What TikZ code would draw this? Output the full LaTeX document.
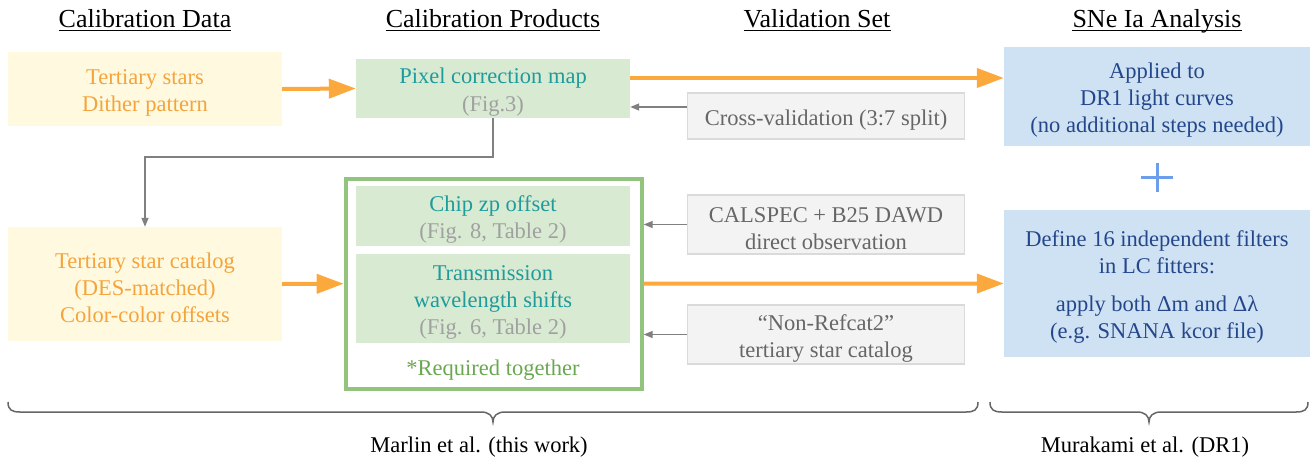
\documentclass[tikz,border=0pt]{standalone}
\usepackage{fontspec}
\setmainfont{Liberation Serif}
\usetikzlibrary{arrows.meta}
\definecolor{yfill}{HTML}{FFF9E0}
\definecolor{otext}{HTML}{F4A43C}
\definecolor{ocol}{HTML}{FBA83D}
\definecolor{gfill}{HTML}{D9EAD3}
\definecolor{ttext}{HTML}{1E9C9C}
\definecolor{subgray}{HTML}{A0A0A0}
\definecolor{gborder}{HTML}{93C47D}
\definecolor{gtext}{HTML}{6AA84F}
\definecolor{grfill}{HTML}{F3F3F3}
\definecolor{grborder}{HTML}{DADADA}
\definecolor{grtext}{HTML}{666666}
\definecolor{bfill}{HTML}{CFE2F3}
\definecolor{btext}{HTML}{24478C}
\definecolor{pluscol}{HTML}{6D9EEB}
\definecolor{gline}{HTML}{808080}
\definecolor{bracecol}{HTML}{666666}
\newcommand\tstrut{\rule{0pt}{23.5pt}}
\begin{document}
\begin{tikzpicture}[x=1pt,y=-1pt,
  body/.style={font=\fontsize{22.5}{27}\selectfont, align=center, inner sep=0pt},
  title/.style={font=\fontsize{26}{30}\selectfont, inner sep=0pt, anchor=base},
  uline/.style={draw=black, line width=1.4pt},
  ybox/.style={body, fill=yfill, text=otext, minimum width=274pt},
  gbox/.style={body, fill=gfill, text=ttext, minimum width=274pt},
  graybox/.style={body, fill=grfill, draw=grborder, line width=1.2pt, text=grtext, minimum width=277pt},
  bbox/.style={body, fill=bfill, text=btext, minimum width=306pt},
  outerbox/.style={draw=gborder, line width=4pt, minimum width=296pt, minimum height=210pt, inner sep=0pt},
  orangearrow/.style={draw=ocol, line width=4pt, -{Triangle[length=27pt,width=19pt]}},
  grayarrow/.style={draw=gline, line width=1.4pt, -{Triangle[length=9pt,width=7pt]}},
  bracestyle/.style={draw=bracecol, line width=1.5pt},
  plusstyle/.style={draw=pluscol, line width=3pt},
  label/.style={body, text=black}
]
\useasboundingbox (0,0) rectangle (1310,459);

% titles
\node[title] (t1) at (145,27) {Calibration Data};
\node[title] (t2) at (493,27) {Calibration Products};
\node[title] (t3) at (817,27) {Validation Set};
\node[title] (t4) at (1157,27) {SNe Ia Analysis};
\foreach \t in {t1,t2,t3,t4}{
  \draw[uline] ([yshift=-3.5pt]\t.base west) -- ([yshift=-3.5pt]\t.base east);
}

% column 1
\node[ybox, minimum height=74pt] (ydata) at (145,89) {\tstrut Tertiary stars\\Dither pattern};
\node[ybox, minimum height=114pt] (ycat) at (145,284) {\tstrut Tertiary star catalog\\(DES-matched)\\Color-color offsets};

% column 2
\node[gbox, minimum height=59pt] (pix) at (493,88.5) {\tstrut Pixel correction map\\[1pt]{\color{subgray}(Fig.3)}};
\node[outerbox] (outer) at (493.7,283.7) {};
\node[gbox, minimum height=60pt] (chip) at (493,216) {\tstrut Chip zp offset\\{\color{subgray}(Fig. 8, Table 2)}};
\node[gbox, minimum height=89pt] (trans) at (493,298.5) {\tstrut Transmission\\wavelength shifts\\{\color{subgray}(Fig. 6, Table 2)}};
\node[body, text=gtext] (req) at (493,366) {\tstrut *Required together};

% column 3
\node[graybox, minimum height=46pt] (cross) at (826,116) {\tstrut Cross-validation (3:7 split)};
\node[graybox, minimum height=59pt] (calspec) at (826,224.5) {\tstrut CALSPEC + B25 DAWD\\direct observation};
\node[graybox, minimum height=59pt] (nonref) at (826,334.5) {\tstrut “Non-Refcat2”\\tertiary star catalog};

% column 4
\node[bbox, minimum height=99pt] (blue1) at (1157,96.5) {\tstrut Applied to\\DR1 light curves\\(no additional steps needed)};
\node[bbox, minimum height=147pt] (blue2) at (1157,283.5) {\tstrut Define 16 independent filters\\in LC fitters:\\[11pt]apply both Δm and Δλ\\(e.g. SNANA kcor file)};

% plus sign
\draw[plusstyle] (1141,177) -- (1173,177);
\draw[plusstyle] (1157,163) -- (1157,192);

% helper coordinates
\coordinate (r1) at (0,78);
\coordinate (r2) at (0,107);
\coordinate (bend1) at (493,157);
\coordinate (bend2) at (145,157);

% orange arrows
\draw[orangearrow] (ydata.east) -- (pix.west);
\draw[orangearrow] (pix.east |- r1) -- (blue1.west |- r1);
\draw[orangearrow] (ycat.east) -- (outer.west);
\draw[orangearrow] (outer.east) -- (blue2.west);

% gray arrows
\draw[grayarrow] (cross.west |- r2) -- (pix.east |- r2);
\draw[grayarrow] (calspec.west) -- (outer.east |- calspec.west);
\draw[grayarrow] (nonref.west) -- (outer.east |- nonref.west);
\draw[grayarrow] (pix.south) -- (bend1) -- (bend2) -- (ycat.north);

% braces
\draw[bracestyle] (8,402) .. controls (8,410) and (12,412) .. (20,412) -- (481,412)
  .. controls (489,412) and (493,416) .. (493,422)
  .. controls (493,416) and (497,412) .. (505,412) -- (966,412)
  .. controls (974,412) and (978,410) .. (978,402);
\draw[bracestyle] (990,402) .. controls (990,410) and (994,412) .. (1002,412) -- (1137,412)
  .. controls (1145,412) and (1149,416) .. (1149,422)
  .. controls (1149,416) and (1153,412) .. (1161,412) -- (1296,412)
  .. controls (1304,412) and (1308,410) .. (1308,402);

\node[label] (marlin) at (479,443) {\tstrut Marlin et al. (this work)};
\node[label] (murakami) at (1145,443) {\tstrut Murakami et al. (DR1)};
\end{tikzpicture}
\end{document}
